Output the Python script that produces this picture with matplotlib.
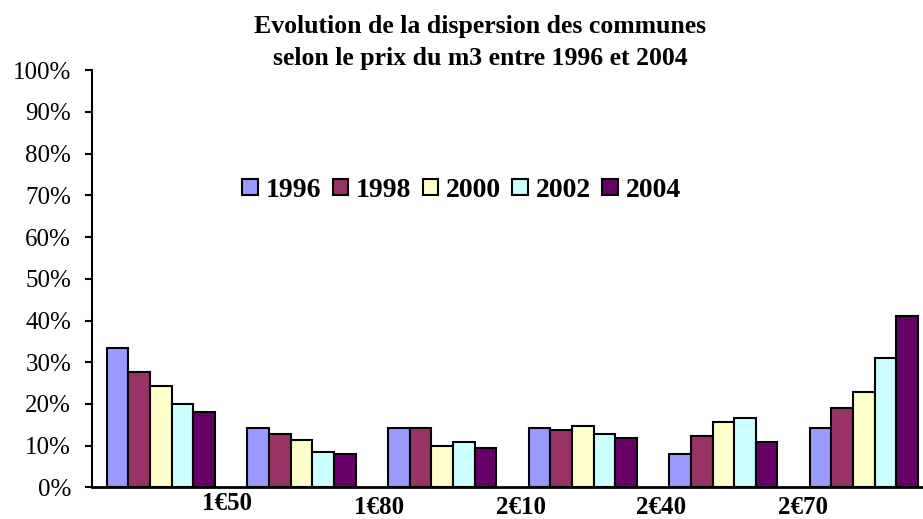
import numpy as np
import matplotlib
matplotlib.use("Agg")
import matplotlib.pyplot as plt
from matplotlib.ticker import PercentFormatter

# values (percentage of communes)
years = ["1996", "1998", "2000", "2002", "2004"]
v1996 = [33.4, 14.3, 14.3, 14.3, 8.1, 14.3]
v1998 = [27.7, 12.8, 14.3, 13.8, 12.4, 19.1]
v2000 = [24.4, 11.3, 10.0, 14.8, 15.7, 22.9]
v2002 = [20.0, 8.5, 10.9, 12.8, 16.7, 31.1]
v2004 = [18.1, 8.1, 9.5, 11.9, 11.0, 41.1]
price_labels = ["1€50", "1€80", "2€10", "2€40", "2€70"]

colors = ["#9999FF", "#993366", "#FFFFCC", "#CCFFFF", "#660066"]
series = [v1996, v1998, v2000, v2002, v2004]

plt.rcParams['font.family'] = ['Liberation Serif', 'DejaVu Serif']

fig = plt.figure(figsize=(9.23, 5.19), dpi=100)
ax = fig.add_axes([0.0997, 0.0607, 0.9003, 0.8044])

x = np.arange(len(v1996))
w = 0.154
for i, (vals, c, yr) in enumerate(zip(series, colors, years)):
    ax.bar(x + (i - 2) * w, vals, width=w, color=c, edgecolor='black',
           linewidth=1.5, label=yr, zorder=3)

ax.set_xlim(-0.49, 5.42)
ax.set_ylim(0, 100)
ax.set_yticks(np.arange(0, 101, 10))
ax.yaxis.set_major_formatter(PercentFormatter(decimals=0))
ax.tick_params(axis='y', length=5, width=1.5, labelsize=18, pad=10)

# price labels sit between the groups
label_pos = [0.47, 1.55, 2.56, 3.56, 4.57]
ax.set_xticks(label_pos)
ax.set_xticklabels(price_labels, fontweight='bold', fontsize=18)
ax.tick_params(axis='x', length=0, pad=6)
ax.get_xticklabels()[0].set_y(0.008)

for s in ['top', 'right']:
    ax.spines[s].set_visible(False)
ax.spines['left'].set_linewidth(1.5)
ax.spines['bottom'].set_linewidth(2)

fig.text(0.52, 0.9364, "Evolution de la dispersion des communes",
         ha='center', va='baseline', fontsize=18.5, fontweight='bold')
fig.text(0.52, 0.874, "selon le prix du m3 entre 1996 et 2004",
         ha='center', va='baseline', fontsize=18.5, fontweight='bold')

ax.legend(loc='center', bbox_to_anchor=(0.445, 0.712), ncol=5, frameon=False,
          prop={'weight': 'bold', 'size': 20}, handlelength=0.55,
          handleheight=0.55, handletextpad=0.3, columnspacing=0.4,
          borderaxespad=0, borderpad=0)

fig.savefig("out.png", dpi=100)
